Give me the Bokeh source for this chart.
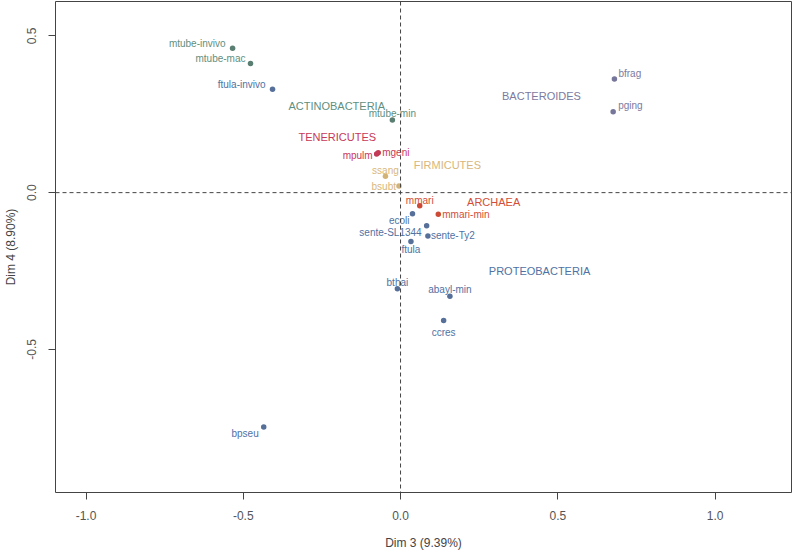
from bokeh.plotting import figure
from bokeh.models import ColumnDataSource, FixedTicker, PrintfTickFormatter, Span, Range1d
from bokeh.core.properties import value
from bokeh.embed import file_html
from bokeh.resources import INLINE

# ---- data ----
names = ["mtube-invivo", "mtube-mac", "ftula-invivo", "mtube-min", "mpulm", "mgeni",
         "ssang", "bsubt", "mmari", "mmari-min", "ecoli", "sente-SL1344", "sente-Ty2",
         "ftula", "bthai", "abayl-min", "ccres", "bpseu", "bfrag", "pging"]
dim3 = [-0.534, -0.477, -0.407, -0.026, -0.076, -0.071,
        -0.048, -0.005, 0.061, 0.120, 0.038, 0.083, 0.087,
        0.033, -0.010, 0.157, 0.137, -0.435, 0.680, 0.676]
dim4 = [0.461, 0.412, 0.330, 0.232, 0.123, 0.127,
        0.052, 0.021, -0.042, -0.069, -0.067, -0.106, -0.138,
        -0.156, -0.307, -0.331, -0.408, -0.748, 0.363, 0.258]
groups = ["ACTINOBACTERIA", "ACTINOBACTERIA", "PROTEOBACTERIA", "ACTINOBACTERIA",
          "TENERICUTES", "TENERICUTES", "FIRMICUTES", "FIRMICUTES", "ARCHAEA", "ARCHAEA",
          "PROTEOBACTERIA", "PROTEOBACTERIA", "PROTEOBACTERIA", "PROTEOBACTERIA",
          "PROTEOBACTERIA", "PROTEOBACTERIA", "PROTEOBACTERIA", "PROTEOBACTERIA",
          "BACTEROIDES", "BACTEROIDES"]

group_names = ["ACTINOBACTERIA", "TENERICUTES", "FIRMICUTES", "ARCHAEA", "PROTEOBACTERIA", "BACTEROIDES"]
group_dim3 = [-0.203, -0.201, 0.149, 0.296, 0.442, 0.448]
group_dim4 = [0.275, 0.178, 0.089, -0.031, -0.249, 0.307]

x_ticks = [-1.0, -0.5, 0.0, 0.5, 1.0]
y_ticks = [-0.5, 0.0, 0.5]

# ---- styles ----
text_colors = {"ACTINOBACTERIA": "#5f8f7f", "PROTEOBACTERIA": "#4f72a4", "TENERICUTES": "#c8385a",
               "FIRMICUTES": "#d9b77a", "ARCHAEA": "#d24e38", "BACTEROIDES": "#7c7aa0"}
dot_colors = {"ACTINOBACTERIA": "#5a7f72", "PROTEOBACTERIA": "#56709a", "TENERICUTES": "#c23a55",
              "FIRMICUTES": "#d2b275", "ARCHAEA": "#cc4a36", "BACTEROIDES": "#76759a"}
# label placement (screen px offsets, alignment)
lab_dx = [-7, -5, -7, 0, -4, 4, 0, -3, 0, 4, -3, -5, 3, 0, 0, 0, 0, -5, 4, 5]
lab_dy = [-5, -5, -5, -6, 1, 0, -6, 0, -5, 0, 7, 7, 0, 8, -6, -7, 12, 6, -5, -6]
lab_align = ["right", "right", "right", "center", "right", "left", "center", "right", "center",
             "left", "right", "right", "left", "center", "center", "center", "center", "right",
             "left", "left"]

FONT = value("Liberation Sans")

src = ColumnDataSource(dict(
    x=dim3, y=dim4, name=names,
    tcol=[text_colors[g] for g in groups],
    dcol=[dot_colors[g] for g in groups],
    dx=lab_dx, dy=lab_dy, align=lab_align,
))
gsrc = ColumnDataSource(dict(x=group_dim3, y=group_dim4, name=group_names,
                             col=[text_colors[g] for g in group_names]))

p = figure(width=800, height=552, output_backend="svg", toolbar_location=None,
           x_range=Range1d(-1.097, 1.243), y_range=Range1d(-0.957, 0.610),
           min_border_left=55, min_border_right=9, min_border_top=1, min_border_bottom=59)
p.background_fill_color = "white"
p.border_fill_color = "white"
p.outline_line_color = "#444444"
p.outline_line_width = 1
p.grid.visible = False

for ax in (p.xaxis[0], p.yaxis[0]):
    ax.axis_line_color = None
    ax.major_tick_line_color = "#444444"
    ax.major_tick_out = 7
    ax.major_tick_in = 0
    ax.minor_tick_line_color = None
    ax.major_label_text_font = "Liberation Sans"
    ax.major_label_text_font_size = "12px"
    ax.major_label_text_color = "#555555"
    ax.axis_label_text_font = "Liberation Sans"
    ax.axis_label_text_font_size = "12px"
    ax.axis_label_text_font_style = "normal"
    ax.axis_label_text_color = "#444444"
    ax.formatter = PrintfTickFormatter(format="%.1f")

p.xaxis.ticker = FixedTicker(ticks=x_ticks)
p.yaxis.ticker = FixedTicker(ticks=y_ticks)
p.xaxis.axis_label = "Dim 3 (9.39%)"
p.yaxis.axis_label = "Dim 4 (8.90%)"
p.xaxis.major_label_standoff = 11
p.xaxis.axis_label_standoff = 13
p.yaxis.major_label_standoff = 12
p.yaxis.axis_label_standoff = 7
p.yaxis.major_label_orientation = "vertical"

p.add_layout(Span(location=0, dimension="width", line_color="#444444", line_dash="4 3", line_width=1))
p.add_layout(Span(location=0, dimension="height", line_color="#444444", line_dash="4 3", line_width=1))

p.scatter("x", "y", source=src, size=5.5, color="dcol", line_color=None)
p.text("x", "y", text="name", source=src, text_color="tcol", text_font=FONT,
       text_font_size="10px", text_align="align", text_baseline="middle",
       x_offset="dx", y_offset="dy")
p.text("x", "y", text="name", source=gsrc, text_color="col", text_font=FONT,
       text_font_size="11px", text_align="center", text_baseline="middle")

open("out.html", "w").write(file_html(p, INLINE))
